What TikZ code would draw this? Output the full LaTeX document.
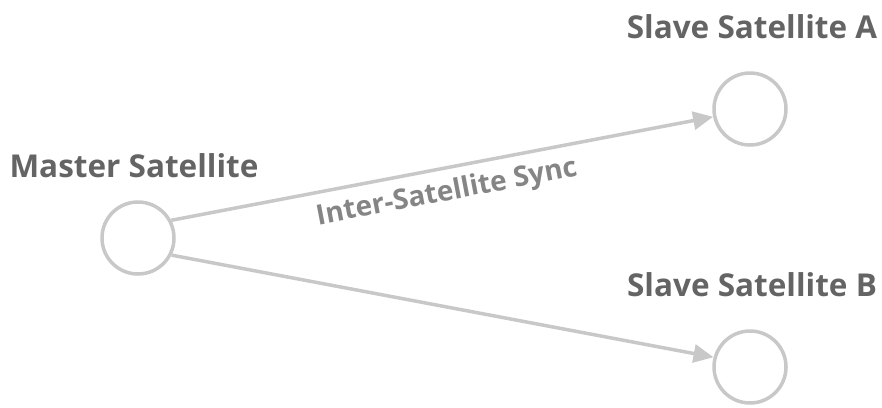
\documentclass[tikz,border=0pt]{standalone}
\usepackage{fontspec}
\setmainfont{Open Sans}
\usetikzlibrary{arrows.meta}
\definecolor{satgray}{HTML}{C8C8C8}
\definecolor{lblgray}{HTML}{646464}
\definecolor{syncgray}{HTML}{858585}
\tikzset{
  sat/.style={circle,draw=satgray,line width=3.5pt,minimum size=72pt,inner sep=0pt},
  satlbl/.style={text=lblgray,font=\fontsize{31.5}{36}\selectfont\bfseries},
  sync/.style={draw=satgray,line width=3.5pt,-{Triangle[length=20pt,width=18pt]}},
  synclbl/.style={text=syncgray,font=\fontsize{28}{32}\selectfont\bfseries}
}
\begin{document}
\begin{tikzpicture}[x=1pt,y=-1pt,line join=round]
  \useasboundingbox (0,0) rectangle (882,407);
  \node[sat] (master) at (138,238) {};
  \node[sat] (slaveA) at (750,109) {};
  \node[sat] (slaveB) at (750,367) {};
  \node[satlbl] (masterlbl) at (134,166) {Master Satellite};
  \node[satlbl] (slaveAlbl) at (752,27) {Slave Satellite A};
  \node[satlbl] (slaveBlbl) at (752,285) {Slave Satellite B};
  \draw[sync] (master.28) -- node[synclbl,sloped,below=6pt,midway] (synclbl) {Inter-Satellite Sync} (slaveA.192);
  \draw[sync] (master.-27) -- (slaveB.165);
\end{tikzpicture}
\end{document}
